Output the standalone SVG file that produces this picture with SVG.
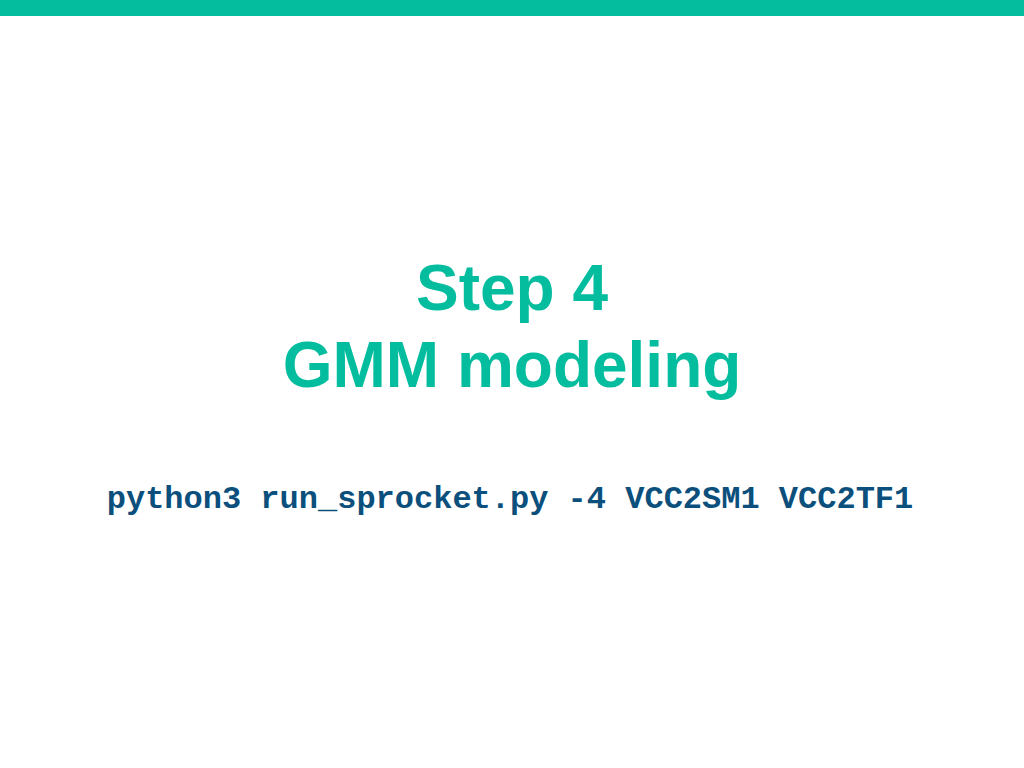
<svg xmlns="http://www.w3.org/2000/svg" width="1024" height="768" viewBox="0 0 1024 768">
<style>
.title{font-family:"Liberation Sans",Arial,sans-serif;font-weight:bold;font-size:64px;fill:#03BD9E;text-anchor:middle}
.cmd{font-family:"Liberation Mono","Courier New",monospace;font-weight:bold;font-size:32px;fill:#0B4F7C;text-anchor:middle}
</style>
<rect x="0" y="0" width="1024" height="768" fill="#FFFFFF"/>
<rect x="0" y="0" width="1024" height="16" fill="#03BD9E"/>
<g id="title">
<text class="title" x="512" y="310">Step 4</text>
<text class="title" x="512" y="387">GMM modeling</text>
</g>
<g id="command">
<text class="cmd" x="510" y="508">python3 run_sprocket.py -4 VCC2SM1 VCC2TF1</text>
</g>
</svg>
